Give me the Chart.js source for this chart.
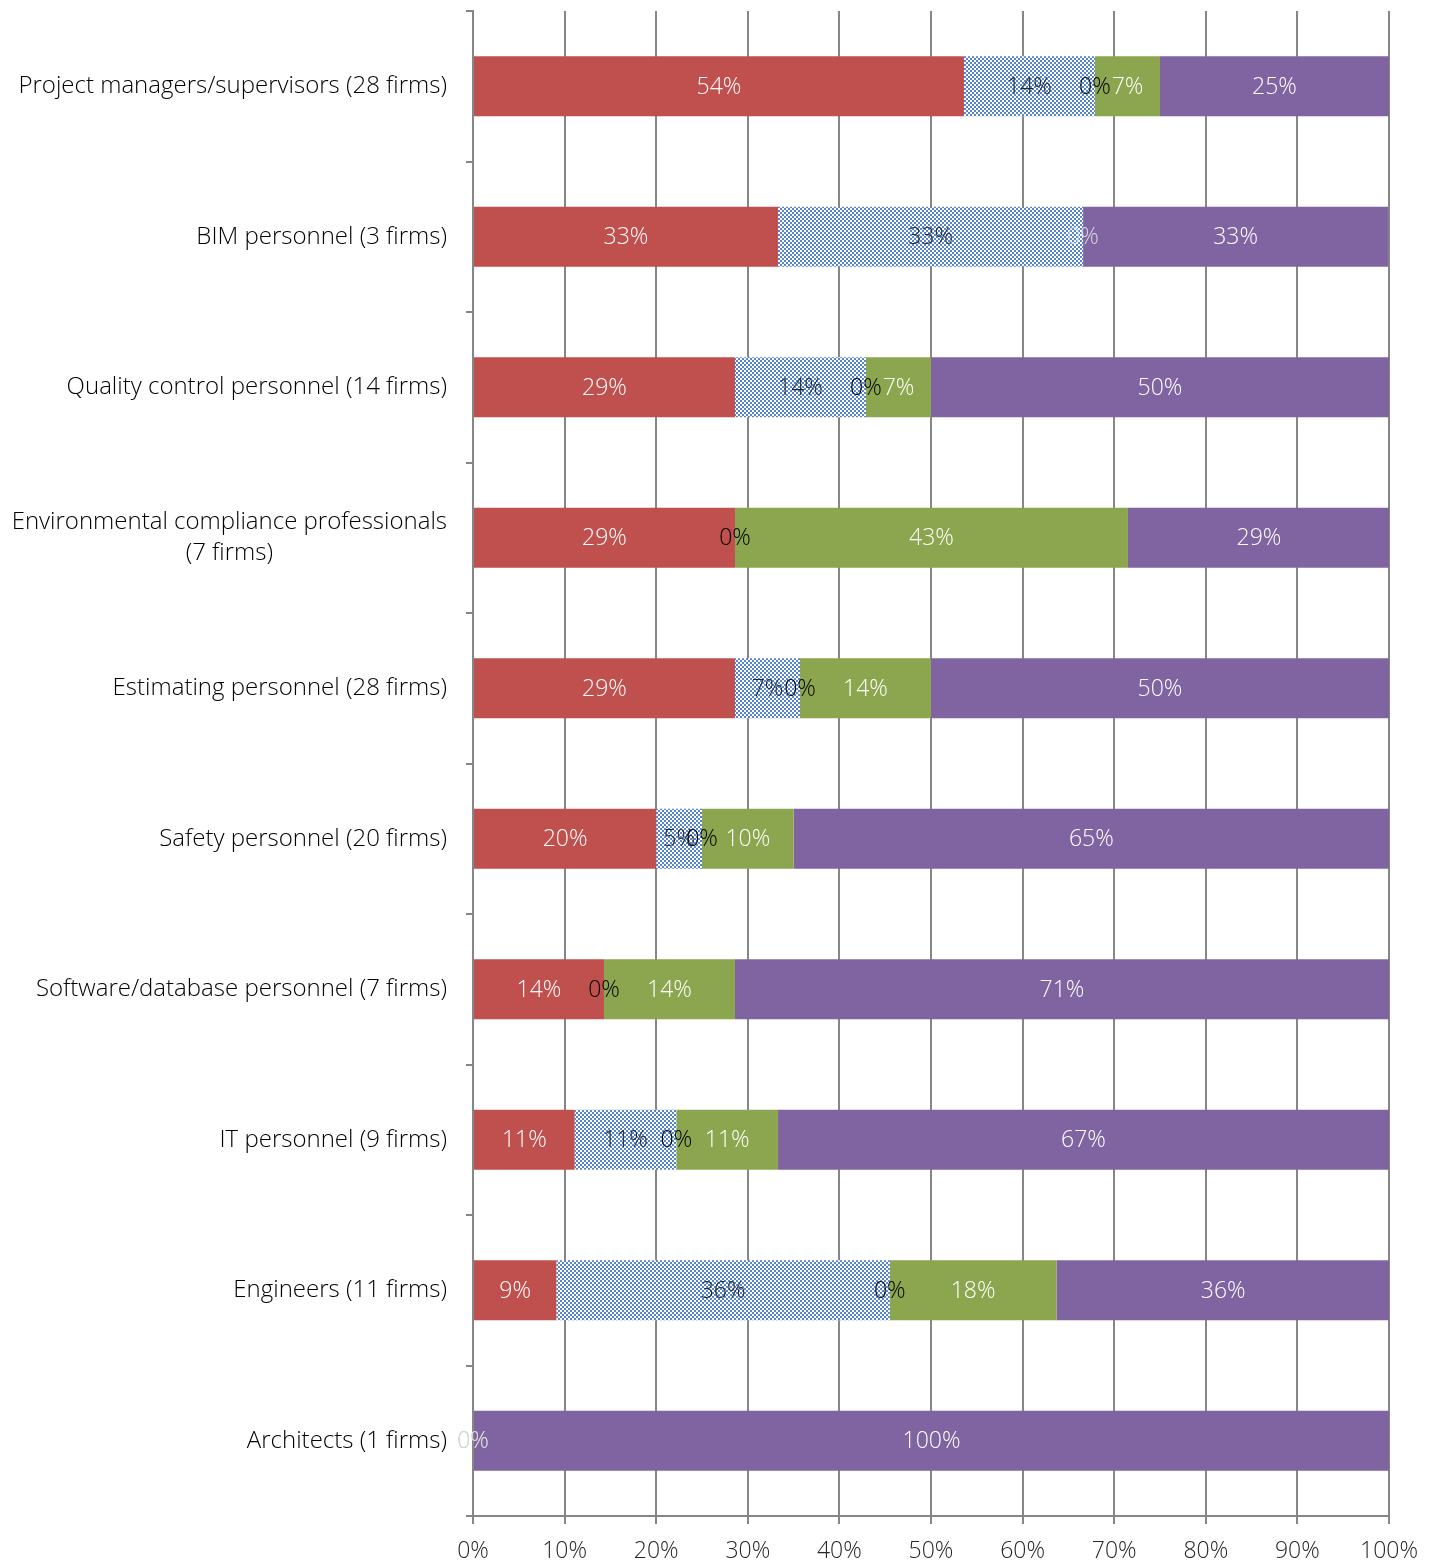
<!DOCTYPE html>
<html>
<head>
<meta charset="utf-8">
<script src="https://cdn.jsdelivr.net/npm/chart.js@4/dist/chart.umd.min.js"></script>
<style>
  body { margin: 0; background: #fff; }
  #wrap { width: 1441px; height: 1564px; }
</style>
</head>
<body>
<div id="wrap"><canvas id="chart"></canvas></div>
<script>
// categories, top to bottom
var categories = [
  "Project managers/supervisors (28 firms)",
  "BIM personnel (3 firms)",
  "Quality control personnel (14 firms)",
  ["Environmental compliance professionals", "(7 firms)"],
  "Estimating personnel (28 firms)",
  "Safety personnel (20 firms)",
  "Software/database personnel (7 firms)",
  "IT personnel (9 firms)",
  "Engineers (11 firms)",
  "Architects (1 firms)"
];

// series values (percent of firms)
var redValues    = [53.6, 33.3, 28.6, 28.6, 28.6, 20, 14.3, 11.1, 9.1, 0];
var blueValues   = [14.3, 33.3, 14.3, 0, 7.1, 5, 0, 11.1, 36.4, 0];
var zeroValues   = [0, null, 0, 0, 0, 0, 0, 0, 0, null];
var greenValues  = [7.1, 0, 7.1, 42.9, 14.3, 10, 14.3, 11.1, 18.2, 0];
var purpleValues = [25, 33.3, 50, 28.6, 50, 65, 71.4, 66.7, 36.4, 100];

var xTicks = [0, 10, 20, 30, 40, 50, 60, 70, 80, 90, 100];

var FONT = "'Open Sans', Lato, sans-serif";

//checker pattern for the blue series
const makePattern = () => {
  var c = document.createElement("canvas");
  c.width = 4;
  c.height = 4;
  var p = c.getContext("2d");
  p.fillStyle = "#ffffff";
  p.fillRect(0, 0, 4, 4);
  p.fillStyle = "#5585cc";
  p.fillRect(0, 0, 2, 2);
  p.fillRect(2, 2, 2, 2);
  return p.createPattern(c, "repeat");
};

//draws the value labels in the middle of each segment
const barLabels = {
  id: "barLabels",
  afterDatasetsDraw(chart) {
    var ctx = chart.ctx;
    ctx.save();
    ctx.font = "300 23px " + FONT;
    ctx.textAlign = "center";
    ctx.textBaseline = "middle";
    chart.data.datasets.forEach((ds, i) => {
      var meta = chart.getDatasetMeta(i);
      meta.data.forEach((bar, j) => {
        var v = ds.data[j];
        if (v === null || v === undefined) return;
        var color = ds.labelColor(v);
        if (!color) return;
        ctx.fillStyle = color;
        ctx.fillText(Math.round(v) + "%", (bar.x + bar.base) / 2, bar.y + 1);
      });
    });
    ctx.restore();
  },
};

//category labels: right aligned block, lines centred inside it
const categoryLabels = {
  id: "categoryLabels",
  afterDraw(chart) {
    var ctx = chart.ctx;
    var yScale = chart.scales.y;
    var right = yScale.right - 26;
    var lineHeight = 31;
    ctx.save();
    ctx.font = "300 24px " + FONT;
    ctx.fillStyle = "#000000";
    ctx.textAlign = "center";
    ctx.textBaseline = "middle";
    categories.forEach((label, i) => {
      var lines = Array.isArray(label) ? label : [label];
      var widest = Math.max(...lines.map((l) => ctx.measureText(l).width));
      var cx = right - widest / 2;
      var y0 = yScale.getPixelForValue(i) - ((lines.length - 1) * lineHeight) / 2;
      lines.forEach((l, k) => {
        ctx.fillText(l, cx, y0 + k * lineHeight);
      });
    });
    ctx.restore();
  },
};

var ctx = document.getElementById("chart").getContext("2d");

var chart = new Chart(ctx, {
  type: "bar",
  data: {
    labels: categories,
    datasets: [
      {
        label: "Series 1",
        data: redValues,
        backgroundColor: "#c0504d",
        labelColor: (v) => (v == 0 ? "#bfbfbf" : "#ffffff"),
      },
      {
        label: "Series 2",
        data: blueValues,
        backgroundColor: makePattern(),
        labelColor: (v) => (v == 0 ? null : "#262626"),
      },
      {
        label: "Series 3",
        data: zeroValues,
        backgroundColor: "#000000",
        labelColor: (v) => "#000000",
      },
      {
        label: "Series 4",
        data: greenValues,
        backgroundColor: "#8ba64e",
        labelColor: (v) => (v == 0 ? "#d9d9d9" : "#ffffff"),
      },
      {
        label: "Series 5",
        data: purpleValues,
        backgroundColor: "#8064a2",
        labelColor: (v) => "#ffffff",
      },
    ],
  },
  options: {
    indexAxis: "y",
    responsive: true,
    maintainAspectRatio: false,
    animation: false,
    barPercentage: 0.4,
    categoryPercentage: 1,
    layout: { padding: { top: 11, right: 52, left: 0, bottom: 0 } },
    plugins: {
      legend: { display: false },
      tooltip: { enabled: false },
    },
    scales: {
      x: {
        stacked: true,
        min: 0,
        max: 100,
        afterBuildTicks: (scale) => {
          scale.ticks = xTicks.map((v) => ({ value: v }));
        },
        afterFit: (scale) => {
          scale.height = 48;
          scale.paddingLeft = 0;
          scale.paddingRight = 0;
        },
        grid: {
          color: "#868686",
          lineWidth: 2,
          tickLength: 8,
          tickColor: "#868686",
        },
        border: { display: true, color: "#868686", width: 2 },
        ticks: {
          color: "#262626",
          padding: 14,
          font: { family: FONT, size: 23, weight: 300 },
          callback: (v) => v + "%",
        },
      },
      y: {
        stacked: true,
        afterFit: (scale) => {
          scale.width = 473;
          scale.paddingTop = 0;
          scale.paddingBottom = 0;
        },
        grid: {
          offset: true,
          drawOnChartArea: false,
          tickLength: 7,
          lineWidth: 2,
          color: "#868686",
        },
        border: { display: true, color: "#868686", width: 2 },
        ticks: {
          display: false,
        },
      },
    },
  },
  plugins: [barLabels, categoryLabels],
});
</script>
</body>
</html>
